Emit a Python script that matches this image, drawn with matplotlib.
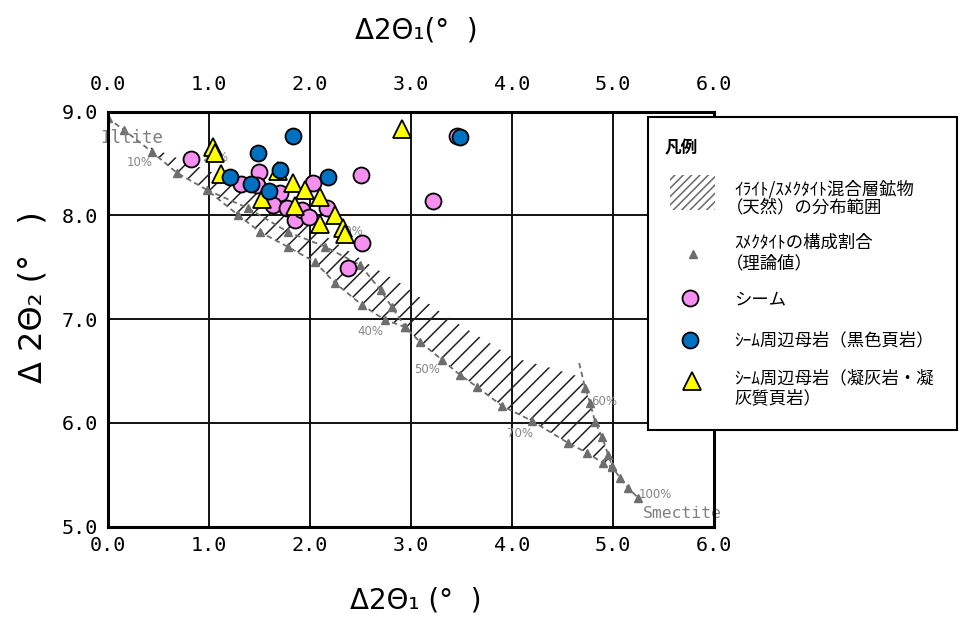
import matplotlib
matplotlib.use("Agg")
import matplotlib.pyplot as plt
from matplotlib.patches import Rectangle
from matplotlib.lines import Line2D

plt.rcParams["hatch.linewidth"] = 1.1

# ---------------- data ----------------
seam_x = [0.826, 1.499, 1.320, 1.479, 1.706, 1.637, 1.775, 1.855, 1.924, 1.993,
          2.033, 2.171, 2.507, 2.517, 2.379, 3.220, 3.457]
seam_y = [8.544, 8.419, 8.303, 8.294, 8.217, 8.101, 8.072, 7.956, 8.053, 7.985,
          8.313, 8.072, 8.390, 7.734, 7.493, 8.139, 8.766]

shale_x = [1.835, 1.489, 1.706, 1.212, 1.419, 1.597, 2.181, 3.487]
shale_y = [8.766, 8.602, 8.438, 8.371, 8.303, 8.236, 8.371, 8.756]

tuff_x = [1.041, 1.063, 1.120, 1.528, 1.838, 1.953, 2.102, 1.855, 2.250, 2.102,
          2.326, 2.344, 2.910, 1.686]
tuff_y = [8.663, 8.599, 8.400, 8.163, 8.310, 8.245, 8.178, 8.091, 8.009, 7.922,
          7.876, 7.819, 8.830, 8.428]

# theoretical smectite ratio curves
lower_x = [0.0, 0.163, 0.440, 0.687, 0.984, 1.291, 1.508, 1.785, 2.052, 2.250,
           2.517, 2.745, 2.943, 3.091, 3.309, 3.487, 3.655, 3.902, 4.199, 4.555,
           4.743, 4.901, 4.990, 5.069, 5.148, 5.247]
lower_y = [8.94, 8.824, 8.612, 8.410, 8.246, 8.004, 7.841, 7.696, 7.551, 7.349,
           7.137, 6.992, 6.925, 6.780, 6.607, 6.462, 6.347, 6.164, 6.019, 5.807,
           5.711, 5.614, 5.576, 5.470, 5.374, 5.278]
upper_x = [0.984, 1.39, 1.785, 2.15, 2.50, 2.70, 2.81, 2.943]
upper_y = [8.246, 8.07, 7.84, 7.70, 7.52, 7.28, 7.12, 6.925]
right_x = [4.664, 4.723, 4.772, 4.822, 4.891, 4.951, 4.990]
right_y = [6.578, 6.337, 6.192, 6.009, 5.865, 5.691, 5.585]

# natural I/S mixed-layer range (hatched)
range_top_x = [0.42, 1.0, 1.5, 2.0, 2.171, 2.626, 2.893, 3.358, 4.011, 4.35, 4.674]
range_top_y = [8.66, 8.43, 8.20, 7.95, 7.792, 7.503, 7.349, 7.022, 6.630, 6.54, 6.443]

pct_labels = ["10%", "20%", "30%", "40%", "50%", "60%", "70%", "100%"]
pct_x = [0.321, 1.06, 2.40, 2.596, 3.160, 4.911, 4.080, 5.416]
pct_y = [8.506, 8.56, 7.85, 6.877, 6.511, 6.202, 5.903, 5.315]

xticks = [0, 1, 2, 3, 4, 5, 6]
xtick_labels = ["0.0", "1.0", "2.0", "3.0", "4.0", "5.0", "6.0"]
yticks = [5, 6, 7, 8, 9]
ytick_labels = ["5.0", "6.0", "7.0", "8.0", "9.0"]

legend_title = "凡例"
legend_lines = [["ｲﾗｲﾄ/ｽﾒｸﾀｲﾄ混合層鉱物", "（天然）の分布範囲"],
                ["ｽﾒｸﾀｲﾄの構成割合", "（理論値）"],
                ["シーム"],
                ["ｼｰﾑ周辺母岩（黒色頁岩）"],
                ["ｼｰﾑ周辺母岩（凝灰岩・凝", "灰質頁岩）"]]

# ---------------- figure ----------------
W, H = 960, 618
fig = plt.figure(figsize=(W / 100, H / 100), dpi=100)
ax = fig.add_axes([107.5 / W, 1 - 526.7 / H, (714.3 - 107.5) / W, (526.7 - 111.7) / H])

ax.set_xlim(0, 6)
ax.set_ylim(5, 9)

mono = "DejaVu Sans Mono"
cjk = ["Noto Sans CJK JP", "DejaVu Sans"]

# grid
for gx in xticks[1:-1]:
    ax.axvline(gx, color="#111111", lw=1.4, zorder=1)
for gy in yticks[1:-1]:
    ax.axhline(gy, color="#111111", lw=1.4, zorder=1)

# hatched range polygon
poly_x = range_top_x + right_x[1:] + lower_x[21:1:-1]
poly_y = range_top_y + right_y[1:] + lower_y[21:1:-1]
ax.fill(poly_x, poly_y, facecolor="none", edgecolor="#222222", hatch="//",
        lw=0, zorder=2)

# theoretical curves
gray = "#6e6e6e"
dash = (0, (3, 2))
for cx, cy, start in [(lower_x, lower_y, 0), (upper_x, upper_y, 1), (right_x, right_y, 1)]:
    ax.plot(cx, cy, color=gray, lw=1.3, linestyle=dash, zorder=3)
    ax.plot(cx[start:], cy[start:], linestyle="none", marker="^", ms=6,
            color=gray, mec=gray, zorder=3)

for t, px, py in zip(pct_labels, pct_x, pct_y):
    ax.text(px, py, t, color="#858585", fontsize=8.5, ha="center", va="center",
            family="DejaVu Sans", zorder=3)

ax.text(-0.07, 8.75, "Illite", color="#808080", fontsize=12.5, family=mono,
        ha="left", va="center", clip_on=False, zorder=3)
ax.text(5.29, 5.13, "Smectite", color="#808080", fontsize=11.8, family=mono,
        ha="left", va="center", zorder=3)

# data points
ax.plot(seam_x, seam_y, linestyle="none", marker="o", ms=11.5, mfc="#F690F0",
        mec="black", mew=1.3, zorder=5)
ax.plot(tuff_x, tuff_y, linestyle="none", marker="^", ms=13, mfc="#FFFF00",
        mec="black", mew=1.3, zorder=6)
ax.plot(shale_x, shale_y, linestyle="none", marker="o", ms=11.5, mfc="#0070C0",
        mec="black", mew=1.3, zorder=7)

# axes styling
for s in ax.spines.values():
    s.set_linewidth(2.2)
    s.set_zorder(8)
ax.set_xticks(xticks)
ax.set_xticklabels(xtick_labels, family=mono, fontsize=14.5)
ax.set_yticks(yticks)
ax.set_yticklabels(ytick_labels, family=mono, fontsize=14.5)
ax.tick_params(axis="both", length=0)
ax.tick_params(axis="x", pad=7)
ax.tick_params(axis="y", pad=7)
sec = ax.secondary_xaxis("top")
sec.set_xticks(xticks)
sec.set_xticklabels(xtick_labels, family=mono, fontsize=14.5)
sec.tick_params(length=0, pad=13)
sec.spines["top"].set_visible(False)

fig.text(416 / W, 1 - 30 / H, "Δ2Θ₁(°  )", fontsize=20, ha="center", va="center")
fig.text(416 / W, 1 - 600 / H, "Δ2Θ₁ (°  )", fontsize=20, ha="center", va="center")
fig.text(33 / W, 1 - 297 / H, "Δ 2Θ₂ (°   )", fontsize=23, ha="center", va="center",
         rotation=90)

# ---------------- legend (manual box) ----------------
def fx(px):
    return px / W


def fy(py):
    return 1 - py / H


lx0, ly0, lx1, ly1 = 648, 117, 957, 430
fig.add_artist(Rectangle((fx(lx0), fy(ly1)), fx(lx1) - fx(lx0), fy(ly0) - fy(ly1),
                         transform=fig.transFigure, facecolor="white",
                         edgecolor="black", lw=1.5, zorder=20))
fig.text(fx(665), fy(148), legend_title, family=cjk, fontsize=12, weight="bold",
         ha="left", va="center", zorder=21)
fig.add_artist(Rectangle((fx(670), fy(210)), fx(715) - fx(670), fy(175) - fy(210),
                         transform=fig.transFigure, facecolor="white",
                         edgecolor="#6a6a6a", hatch="////", lw=0, zorder=21))
fig.add_artist(Line2D([fx(693)], [fy(254)], transform=fig.transFigure, marker="^",
                      ms=6, color=gray, linestyle="none", zorder=21))
fig.add_artist(Line2D([fx(690)], [fy(298)], transform=fig.transFigure, marker="o",
                      ms=11.5, mfc="#F690F0", mec="black", mew=1.3,
                      linestyle="none", zorder=21))
fig.add_artist(Line2D([fx(690)], [fy(340)], transform=fig.transFigure, marker="o",
                      ms=11.5, mfc="#0070C0", mec="black", mew=1.3,
                      linestyle="none", zorder=21))
fig.add_artist(Line2D([fx(692)], [fy(381)], transform=fig.transFigure, marker="^",
                      ms=13, mfc="#FFFF00", mec="black", mew=1.3,
                      linestyle="none", zorder=21))

line_y = [[189, 208], [243, 263], [299], [340], [378, 398]]
for lines, ys in zip(legend_lines, line_y):
    for lab, ty in zip(lines, ys):
        x0 = 726 if lab.startswith("（") else 734
        fig.text(fx(x0), fy(ty), lab, family=cjk, fontsize=12.5, ha="left",
                 va="center", zorder=21)

fig.savefig("out.png", dpi=100)
